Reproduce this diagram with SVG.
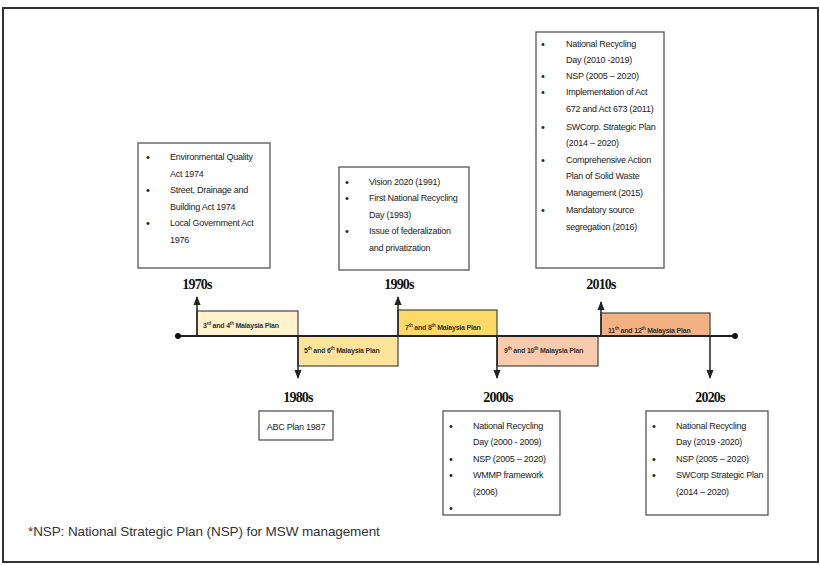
<svg xmlns="http://www.w3.org/2000/svg" width="820" height="565" viewBox="0 0 820 565">
<defs>
<style>
.frame{fill:#fff;stroke:#333;stroke-width:2}
.box{fill:#fff;stroke:#555;stroke-width:1.3}
.t{font-family:"Liberation Sans",Arial,sans-serif;font-size:9px;letter-spacing:-0.25px;fill:#222}
.b{font-family:"Liberation Sans",Arial,sans-serif;font-size:11px;fill:#222}
.yr{font-family:"Liberation Serif","Times New Roman",serif;font-size:14px;font-weight:bold;letter-spacing:-0.8px;fill:#111;text-anchor:middle}
.pl{font-family:"Liberation Sans",Arial,sans-serif;font-size:7px;font-weight:bold;fill:#333;letter-spacing:-0.2px}
.pl tspan.s{font-size:4.5px}
.bar{stroke:#444;stroke-width:1.2}
.ln{stroke:#222;stroke-width:2;fill:none}
.ar{stroke:#222;stroke-width:1.5;fill:none}
.fn{font-family:"Liberation Sans",Arial,sans-serif;font-size:13.5px;fill:#333;letter-spacing:-0.1px}
</style>
<marker id="ah" viewBox="0 0 10 10" refX="9" refY="5" markerWidth="6" markerHeight="6" orient="auto"><path d="M0,1 L10,5 L0,9 z" fill="#222"/></marker>
</defs>
<rect class="frame" x="3" y="8" width="815" height="554"/>

<g id="bars">
<rect class="bar" x="197" y="311" width="101" height="25" fill="#FFF2CC"/>
<rect class="bar" x="298" y="336" width="100" height="30" fill="#FCE59A"/>
<rect class="bar" x="398" y="310" width="99" height="26" fill="#FFD966"/>
<rect class="bar" x="497" y="336" width="101" height="30" fill="#F8CBAD"/>
<rect class="bar" x="601" y="313" width="109" height="23" fill="#F4B183"/>
<text class="pl" x="203" y="328">3<tspan class="s" dy="-3">rd</tspan><tspan dy="3"> and 4</tspan><tspan class="s" dy="-3">th</tspan><tspan dy="3"> Malaysia Plan</tspan></text>
<text class="pl" x="304" y="353">5<tspan class="s" dy="-3">th</tspan><tspan dy="3"> and 6</tspan><tspan class="s" dy="-3">th</tspan><tspan dy="3"> Malaysia Plan</tspan></text>
<text class="pl" x="405" y="330">7<tspan class="s" dy="-3">th</tspan><tspan dy="3"> and 8</tspan><tspan class="s" dy="-3">th</tspan><tspan dy="3"> Malaysia Plan</tspan></text>
<text class="pl" x="504" y="353">9<tspan class="s" dy="-3">th</tspan><tspan dy="3"> and 10</tspan><tspan class="s" dy="-3">th</tspan><tspan dy="3"> Malaysia Plan</tspan></text>
<text class="pl" x="608" y="333">11<tspan class="s" dy="-3">th</tspan><tspan dy="3"> and 12</tspan><tspan class="s" dy="-3">th</tspan><tspan dy="3"> Malaysia Plan</tspan></text>
</g>

<g id="connectors">
<line class="ln" x1="178" y1="336" x2="735" y2="336"/>
<circle cx="178" cy="336" r="3" fill="#111"/>
<circle cx="735" cy="336" r="3" fill="#111"/>
<line class="ar" x1="197" y1="336" x2="197" y2="297" marker-end="url(#ah)"/>
<line class="ar" x1="298" y1="336" x2="298" y2="378" marker-end="url(#ah)"/>
<line class="ar" x1="398" y1="336" x2="398" y2="297" marker-end="url(#ah)"/>
<line class="ar" x1="497" y1="336" x2="497" y2="378" marker-end="url(#ah)"/>
<line class="ar" x1="601" y1="336" x2="601" y2="302" marker-end="url(#ah)"/>
<line class="ar" x1="710" y1="336" x2="710" y2="378" marker-end="url(#ah)"/>
</g>

<g id="labels">
<text class="yr" x="197" y="289">1970s</text>
<text class="yr" x="298" y="402">1980s</text>
<text class="yr" x="399" y="289">1990s</text>
<text class="yr" x="498" y="402">2000s</text>
<text class="yr" x="601" y="289">2010s</text>
<text class="yr" x="710" y="402">2020s</text>
</g>

<g id="n1970">
<rect class="box" x="138" y="143" width="132" height="125"/>
<text class="b" x="146" y="161">•</text><text class="t" x="170" y="160">Environmental Quality</text>
<text class="t" x="170" y="177">Act 1974</text>
<text class="b" x="146" y="194">•</text><text class="t" x="170" y="193">Street, Drainage and</text>
<text class="t" x="170" y="210">Building Act 1974</text>
<text class="b" x="146" y="227">•</text><text class="t" x="170" y="226">Local Government Act</text>
<text class="t" x="170" y="243">1976</text>
</g>

<g id="n1990">
<rect class="box" x="339" y="167" width="130" height="103"/>
<text class="b" x="345" y="186">•</text><text class="t" x="369" y="185">Vision 2020 (1991)</text>
<text class="b" x="345" y="202">•</text><text class="t" x="369" y="201">First National Recycling</text>
<text class="t" x="369" y="218">Day (1993)</text>
<text class="b" x="345" y="235">•</text><text class="t" x="369" y="234">Issue of federalization</text>
<text class="t" x="369" y="251">and privatization</text>
</g>

<g id="n2010">
<rect class="box" x="536" y="32" width="128" height="236"/>
<text class="b" x="541" y="48">•</text><text class="t" x="566" y="47">National Recycling</text>
<text class="t" x="566" y="63">Day (2010 -2019)</text>
<text class="b" x="541" y="80">•</text><text class="t" x="566" y="79">NSP (2005 – 2020)</text>
<text class="b" x="541" y="96">•</text><text class="t" x="566" y="95">Implementation of Act</text>
<text class="t" x="566" y="112">672 and Act 673 (2011)</text>
<text class="b" x="541" y="131">•</text><text class="t" x="566" y="130">SWCorp. Strategic Plan</text>
<text class="t" x="566" y="146">(2014 – 2020)</text>
<text class="b" x="541" y="164">•</text><text class="t" x="566" y="163">Comprehensive Action</text>
<text class="t" x="566" y="179">Plan of Solid Waste</text>
<text class="t" x="566" y="196">Management  (2015)</text>
<text class="b" x="541" y="214">•</text><text class="t" x="566" y="213">Mandatory source</text>
<text class="t" x="566" y="230">segregation (2016)</text>
</g>

<g id="n1980">
<rect class="box" x="259" y="411" width="74" height="29"/>
<text class="t" x="296" y="430" text-anchor="middle">ABC Plan 1987</text>
</g>

<g id="n2000">
<rect class="box" x="443" y="411" width="117" height="104"/>
<text class="b" x="449" y="430">•</text><text class="t" x="473" y="429">National Recycling</text>
<text class="t" x="473" y="445">Day (2000 - 2009)</text>
<text class="b" x="449" y="463">•</text><text class="t" x="473" y="462">NSP (2005 – 2020)</text>
<text class="b" x="449" y="479">•</text><text class="t" x="473" y="478">WMMP framework</text>
<text class="t" x="473" y="495">(2006)</text>
<text class="b" x="449" y="512">•</text>
</g>

<g id="n2020">
<rect class="box" x="646" y="411" width="122" height="104"/>
<text class="b" x="652" y="430">•</text><text class="t" x="676" y="429">National Recycling</text>
<text class="t" x="676" y="445">Day (2019 -2020)</text>
<text class="b" x="652" y="463">•</text><text class="t" x="676" y="462">NSP (2005 – 2020)</text>
<text class="b" x="652" y="479">•</text><text class="t" x="676" y="478">SWCorp Strategic Plan</text>
<text class="t" x="676" y="495">(2014 – 2020)</text>
</g>

<text class="fn" x="28" y="536">*NSP: National Strategic Plan (NSP) for MSW management</text>
</svg>
